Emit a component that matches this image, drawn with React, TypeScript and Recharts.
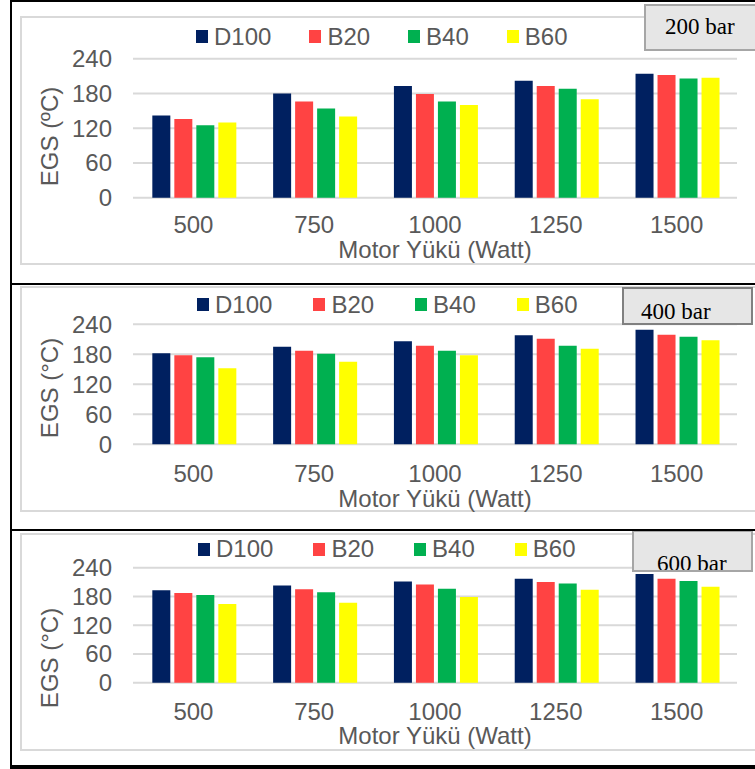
import { BarChart, Bar, XAxis, YAxis, CartesianGrid, Legend } from "recharts";

const loads = ["500", "750", "1000", "1250", "1500"];
const yTicks = [0, 60, 120, 180, 240];

// 200 bar
const d100At200 = [142, 180, 193, 202, 214];
const b20At200 = [136, 166, 179, 193, 212];
const b40At200 = [125, 154, 166, 188, 206];
const b60At200 = [130, 140, 160, 170, 207];

// 400 bar
const d100At400 = [182, 195, 206, 218, 229];
const b20At400 = [178, 187, 197, 211, 219];
const b40At400 = [174, 181, 187, 197, 215];
const b60At400 = [152, 165, 178, 191, 208];

// 600 bar
const d100At600 = [193, 203, 211, 217, 227];
const b20At600 = [187, 195, 205, 210, 217];
const b40At600 = [183, 189, 196, 207, 212];
const b60At600 = [164, 167, 179, 194, 200];

const fuels = ["D100", "B20", "B40", "B60"];
const fuelColors = ["#002060", "#FF4343", "#00B050", "#FFFF00"];

const FONT = "'Liberation Sans', Arial, sans-serif";
const GREY = "#595959";
const FS = 24;

const buildRows = (series: number[][]) =>
  loads.map((load, i) => {
    const row: any = { load };
    fuels.forEach((f, j) => (row[f] = series[j][i]));
    return row;
  });

interface PanelProps {
  rows: any[];
  top: number;
  height: number;
  plotTop: number;
  plotBottom: number;
  tickGap: number;
  xTitleY: number;
  yTitle: string;
  yTitleY: number;
  legendY: number;
  legendLeft: number;
  legendGap: number;
}

const Panel = ({ rows, top, height, plotTop, plotBottom, tickGap, xTitleY, yTitle, yTitleY, legendY, legendLeft, legendGap }: PanelProps) => {
  // keep the legend in series order (recharts sorts it by name otherwise)
  const renderLegend = (props: any) => {
    const items = [...(props.payload || [])].sort((a: any, b: any) => fuels.indexOf(a.value) - fuels.indexOf(b.value));
    return (
      <div style={{ display: "flex", alignItems: "center", fontFamily: FONT, fontSize: FS, lineHeight: "26px", color: GREY }}>
        {items.map((p: any) => (
          <div key={p.value} style={{ display: "flex", alignItems: "center", marginRight: legendGap }}>
            <span style={{ display: "inline-block", width: 12, height: 13, background: p.color, marginRight: 6 }} />
            <span>{p.value}</span>
          </div>
        ))}
      </div>
    );
  };

  return (
    <div style={{ position: "absolute", left: 0, top, width: 755, height }}>
      <BarChart
        width={755}
        height={height}
        data={rows}
        margin={{ top: plotTop - top, right: 18, bottom: 0, left: 0 }}
        barCategoryGap="16%"
        barGap={4}
      >
        <CartesianGrid vertical={false} stroke="#d9d9d9" strokeWidth={2} />
        <XAxis
          dataKey="load"
          axisLine={false}
          tickLine={false}
          tickSize={0}
          tickMargin={tickGap}
          height={height - (plotBottom - top)}
          tick={{ fill: GREY, fontSize: FS, fontFamily: FONT }}
          label={{
            content: () => (
              <text x={435} y={xTitleY - top} textAnchor="middle" dominantBaseline="central" fill={GREY} fontSize={FS} fontFamily={FONT}>
                Motor Yükü (Watt)
              </text>
            ),
          }}
        />
        <YAxis
          width={133}
          domain={[0, 240]}
          ticks={yTicks}
          interval={0}
          axisLine={false}
          tickLine={false}
          tickSize={0}
          tickMargin={21}
          tick={{ fill: GREY, fontSize: FS, fontFamily: FONT }}
          label={{
            content: () => (
              <text
                x={49}
                y={yTitleY - top}
                transform={`rotate(-90 49 ${yTitleY - top})`}
                textAnchor="middle"
                dominantBaseline="central"
                fill={GREY}
                fontSize={FS}
                fontFamily={FONT}
              >
                {yTitle}
              </text>
            ),
          }}
        />
        <Legend
          verticalAlign="middle"
          align="center"
          content={renderLegend}
          wrapperStyle={{ left: legendLeft, top: legendY - top - 13, width: "auto" }}
        />
        {fuels.map((f, j) => (
          <Bar key={f} dataKey={f} name={f} fill={fuelColors[j]} isAnimationActive={false} />
        ))}
      </BarChart>
    </div>
  );
};

const PressureTag = ({ text, left, top, width, height, textLeft, baseline, border }: any) => (
  <div
    style={{
      position: "absolute",
      left,
      top,
      width,
      height,
      background: "#e6e6e6",
      border: `2px solid ${border}`,
      boxSizing: "border-box",
      overflow: "hidden",
    }}
  >
    <span
      style={{
        position: "absolute",
        left: textLeft - left - 2,
        top: baseline - top - 2 - 19,
        fontFamily: "'Liberation Serif', 'Times New Roman', serif",
        fontSize: 23,
        lineHeight: "23px",
        color: "#000",
        whiteSpace: "nowrap",
      }}
    >
      {text}
    </span>
  </div>
);

const Frame = ({ top, height }: { top: number; height: number }) => (
  <div
    style={{
      position: "absolute",
      left: 20,
      top,
      width: 760,
      height,
      border: "2px solid #d9d9d9",
      boxSizing: "border-box",
    }}
  />
);

const Rule = ({ left, top, width, height }: any) => (
  <div style={{ position: "absolute", left, top, width, height, background: "#000" }} />
);

export default function App() {
  return (
    <div style={{ position: "absolute", left: 0, top: 0, width: 755, height: 769, background: "#fff", overflow: "hidden" }}>
      <Frame top={16} height={249} />
      <Frame top={286} height={226} />
      <Frame top={533} height={218} />

      <Panel
        rows={buildRows([d100At200, b20At200, b40At200, b60At200])}
        top={0}
        height={284}
        plotTop={58.7}
        plotBottom={197.7}
        tickGap={18}
        xTitleY={249}
        yTitle="EGS (ºC)"
        yTitleY={136.5}
        legendY={36.5}
        legendLeft={196}
        legendGap={38}
      />
      <Panel
        rows={buildRows([d100At400, b20At400, b40At400, b60At400])}
        top={286}
        height={244}
        plotTop={324.3}
        plotBottom={444.3}
        tickGap={21}
        xTitleY={498}
        yTitle="EGS (°C)"
        yTitleY={388}
        legendY={304.5}
        legendLeft={197}
        legendGap={41}
      />
      <Panel
        rows={buildRows([d100At600, b20At600, b40At600, b60At600])}
        top={532}
        height={233}
        plotTop={567.7}
        plotBottom={682.7}
        tickGap={20}
        xTitleY={735}
        yTitle="EGS (°C)"
        yTitleY={658}
        legendY={549}
        legendLeft={198}
        legendGap={40}
      />

      <PressureTag text="200 bar" left={644} top={4} width={120} height={47} textLeft={665} baseline={34} border="#a6a6a6" />
      <PressureTag text="400 bar" left={622} top={287} width={131} height={38} textLeft={641} baseline={319} border="#808080" />
      <PressureTag text="600 bar" left={632} top={530} width={121} height={42} textLeft={657} baseline={571} border="#a6a6a6" />

      <Rule left={10} top={0} width={2} height={769} />
      <Rule left={10} top={0} width={755} height={2} />
      <Rule left={10} top={283} width={755} height={2} />
      <Rule left={10} top={529} width={755} height={2} />
      <Rule left={10} top={765} width={755} height={4} />
    </div>
  );
}
